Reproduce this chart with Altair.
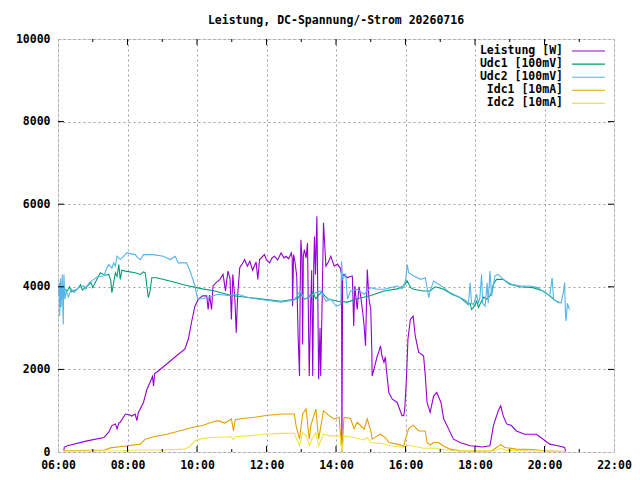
import altair as alt
import pandas as pd

FONT = "DejaVu Sans Mono"
TITLE = "Leistung, DC-Spannung/-Strom 20260716"
SERIES = ["Leistung [W]", "Udc1 [100mV]", "Udc2 [100mV]", "Idc1 [10mA]", "Idc2 [10mA]"]
COLORS = ["#9400d3", "#009e73", "#56b4e9", "#e69f00", "#f0e442"]
X_TICKS = [6, 8, 10, 12, 14, 16, 18, 20, 22]
X_MINOR = [7, 9, 11, 13, 15, 17, 19, 21]
Y_TICKS = [0, 2000, 4000, 6000, 8000, 10000]

# Leistung [W]
P_T = [6.17, 6.18, 6.27, 6.84, 7.32, 7.46, 7.55, 7.65, 7.70, 7.75, 7.79, 7.94, 8.05, 8.12, 8.22, 8.27, 8.31,
       8.46, 8.56, 8.65, 8.72, 8.75, 8.78, 8.84, 9.13, 9.41, 9.65, 9.75, 9.84, 9.94, 10.04, 10.16, 10.28,
       10.32, 10.36, 10.42, 10.46, 10.55, 10.66, 10.75, 10.82, 10.89, 10.95, 10.99, 11.03, 11.09, 11.13,
       11.17, 11.23, 11.30, 11.37, 11.45, 11.52, 11.60, 11.70, 11.75, 11.80, 11.94, 12.00, 12.09, 12.16,
       12.23, 12.32, 12.42, 12.50, 12.56, 12.64, 12.71, 12.74, 12.75, 12.78, 12.82, 12.87, 12.91, 12.95,
       12.97, 12.99, 13.02, 13.04, 13.06, 13.09, 13.14, 13.18, 13.21, 13.23, 13.27, 13.30, 13.33, 13.36,
       13.38, 13.41, 13.45, 13.48, 13.50, 13.54, 13.56, 13.60, 13.64, 13.71, 13.78, 13.85, 13.95, 14.04,
       14.12, 14.16, 14.17, 14.19, 14.23, 14.33, 14.40, 14.47, 14.51, 14.54, 14.61, 14.66, 14.71, 14.78,
       14.81, 14.85, 14.88, 14.90, 14.95, 15.00, 15.03, 15.04, 15.09, 15.19, 15.24, 15.28, 15.33, 15.38,
       15.42, 15.45, 15.52, 15.62, 15.76, 15.90, 15.95, 15.98, 16.03, 16.07, 16.14, 16.22, 16.28, 16.38,
       16.52, 16.57, 16.62, 16.71, 16.81, 16.90, 17.02, 17.10, 17.24, 17.38, 17.57, 17.86, 18.05, 18.20,
       18.43, 18.53, 18.67, 18.74, 18.81, 18.91, 19.05, 19.19, 19.43, 19.77, 19.96, 20.15, 20.39, 20.58,
       20.61]
P_V = [30, 120, 150, 270, 350, 480, 640, 680, 560, 700, 720, 920, 900, 870, 920, 760, 950,
       1200, 1520, 1690, 1830, 1600, 1900, 1930, 2130, 2330, 2490, 2730, 3130, 3530, 3700, 3780, 3780,
       3450, 3800, 3450, 4020, 4100, 4180, 4300, 3900, 4380, 4200, 3210, 4300, 3700, 2890,
       3800, 4460, 4550, 4660, 4500, 4620, 4400, 4600, 4180, 4660, 4780, 4650, 4580, 4700,
       4740, 4650, 4820, 4700, 4740, 4680, 4820, 4700, 3530, 4780, 4600, 4260, 2810, 1840,
       4000, 5140, 4700, 2600, 4750, 4900, 4700, 5060, 3000, 1840, 3500, 4400, 1840, 4500,
       5220, 4300, 5710, 3500, 1760, 3000, 1840, 3600, 5550, 4500, 4600, 4740, 4500, 4550,
       4460, 4300, 0, 4260, 4300, 4220, 4250, 4260, 3050, 4020, 3450, 4000, 3780, 3300,
       3050, 2570, 3700, 4420, 3700, 3450, 2500, 1840, 2000, 2330, 2450, 2570, 2300, 2170,
       2300, 2000, 1440, 1280, 1200, 880, 880, 1040, 1840, 2730, 3210, 3290, 2810, 2410,
       2330, 1840, 1200, 960, 1360, 1440, 1200, 800, 560, 310, 230, 150, 140, 120,
       150, 640, 1000, 1120, 880, 680, 640, 510, 430, 430, 310, 190, 150, 110,
       10]

# Udc1 [100mV]
U1_T = [6.05, 6.07, 6.10, 6.14, 6.19, 6.27, 6.33, 6.39, 6.55, 6.65, 6.70, 6.84, 6.95, 7.00, 7.12, 7.22,
        7.35, 7.46, 7.52, 7.55, 7.58, 7.65, 7.70, 7.75, 7.79, 7.84, 7.94, 8.22, 8.37, 8.46, 8.51, 8.56,
        8.60, 8.65, 8.70, 8.84, 9.13, 9.41, 9.70, 9.99, 10.16, 10.51, 10.99, 11.47, 11.94, 12.42, 12.80,
        12.90, 12.99, 13.09, 13.20, 13.33, 13.42, 13.50, 13.58, 13.76, 14.04, 14.33, 14.61, 15.00, 15.38,
        15.76, 15.95, 16.05, 16.15, 16.24, 16.52, 16.70, 16.86, 17.10, 17.33, 17.57, 17.81, 17.86, 17.90,
        17.95, 18.05, 18.10, 18.14, 18.25, 18.34, 18.45, 18.53, 18.62, 18.81, 19.00, 19.29, 19.67, 19.96,
        20.15, 20.34, 20.43]
U1_V = [3940, 3800, 4000, 3860, 3950, 3900, 4000, 3880, 3940, 4050, 3920, 4020, 4100, 3980, 4180, 4340,
        4280, 4300, 4150, 3860, 4000, 4340, 4250, 4540, 4180, 4400, 4380, 4340, 4300, 4360, 4340, 4000,
        3740, 3900, 4220, 4220, 4160, 4100, 4030, 3980, 3950, 3900, 3790, 3740, 3700, 3650, 3700,
        3720, 3820, 3700, 3740, 3870, 3710, 3800, 3870, 3710, 3650, 3630, 3710, 3790, 3900,
        3950, 4020, 4140, 3980, 3940, 3900, 3900, 4000, 3940, 3820, 3740, 3570, 3600, 3450,
        3490, 3650, 3500, 3570, 3750, 3700, 3800, 4060, 4180, 4180, 4060, 4000, 3980, 3900,
        3780, 3650, 3610]

# Udc2 [100mV]
U2_T = [6.02, 6.04, 6.05, 6.07, 6.09, 6.12, 6.15, 6.17, 6.20, 6.24, 6.30, 6.38, 6.46, 6.55, 6.62, 6.74,
        6.80, 6.90, 7.03, 7.15, 7.32, 7.40, 7.46, 7.55, 7.60, 7.65, 7.70, 7.79, 7.84, 7.98, 8.22, 8.30,
        8.37, 8.46, 8.75, 9.03, 9.23, 9.37, 9.46, 9.70, 9.82, 9.94, 10.02, 10.13, 10.32, 10.61, 10.89,
        11.18, 11.47, 11.94, 12.42, 12.80, 12.97, 13.09, 13.25, 13.42, 13.56, 13.71, 13.85, 14.00, 14.14,
        14.16, 14.19, 14.28, 14.33, 14.42, 14.61, 14.81, 15.00, 15.19, 15.38, 15.57, 15.76, 15.90, 16.00,
        16.05, 16.09, 16.24, 16.43, 16.57, 16.67, 16.71, 16.81, 16.95, 17.10, 17.28, 17.48, 17.67, 17.76,
        17.81, 17.86, 17.90, 17.95, 18.05, 18.10, 18.14, 18.19, 18.22, 18.29, 18.35, 18.38, 18.43, 18.48,
        18.57, 18.67, 18.81, 19.05, 19.29, 19.57, 19.81, 20.00, 20.15, 20.22, 20.26, 20.34, 20.48, 20.55,
        20.58, 20.60, 20.62, 20.66, 20.72]
U2_V = [3800, 4100, 3300, 4200, 3500, 4300, 3090, 4300, 3700, 3900, 3750, 3950, 3860, 3950, 4000, 4020,
        3950, 4100, 4180, 4250, 4260, 4450, 4540, 4450, 4580, 4500, 4740, 4660, 4700, 4820, 4780, 4700,
        4660, 4780, 4780, 4740, 4660, 4740, 4580, 4580, 4340, 4020, 3700, 3710, 3740, 3820, 3790,
        3820, 3740, 3680, 3630, 3680, 3900, 3700, 3750, 3860, 3900, 3650, 3700, 3530, 3570,
        4620, 4180, 4300, 3700, 3900, 3940, 3820, 3980, 3940, 3940, 3980, 4020, 3950, 4140,
        4540, 4340, 4260, 4180, 4220, 3740, 3900, 4140, 4060, 3980, 3860, 3780, 3700, 3650,
        3570, 4100, 3600, 3570, 3800, 3600, 3740, 4300, 3600, 3530, 4100, 3600, 4380, 3780,
        4260, 4300, 4180, 4060, 4020, 4020, 3980, 3860, 3780, 4220, 3700, 3650, 3610, 3900,
        4100, 3400, 3170, 3600, 3450]

# Idc1 [10mA]
I1_T = [6.17, 7.35, 7.51, 7.89, 8.37, 8.51, 8.75, 9.13, 9.49, 9.89, 10.16, 10.42, 10.61, 10.80, 10.99,
        11.05, 11.10, 11.30, 11.66, 12.04, 12.42, 12.80, 12.85, 12.95, 13.04, 13.14, 13.23, 13.28, 13.42,
        13.50, 13.64, 13.80, 13.95, 14.09, 14.17, 14.23, 14.42, 14.52, 14.61, 14.81, 14.90, 15.00, 15.04,
        15.19, 15.28, 15.42, 15.52, 15.76, 15.95, 16.00, 16.09, 16.22, 16.38, 16.57, 16.62, 16.71, 16.81,
        16.95, 17.10, 17.28, 17.57, 17.95, 18.48, 18.62, 18.74, 18.86, 19.19, 19.67, 20.00, 20.61]
I1_V = [30, 50, 100, 140, 190, 310, 370, 430, 510, 600, 640, 720, 760, 700, 800,
        510, 780, 810, 840, 890, 920, 920, 640, 310, 920, 1040, 310, 650, 1040,
        310, 1000, 880, 800, 840, 0, 840, 810, 560, 720, 560, 800, 510, 310,
        390, 430, 350, 230, 190, 140, 310, 560, 650, 510, 510, 230, 170, 230,
        230, 140, 70, 30, 20, 30, 110, 180, 110, 70, 60, 30, 10]

# Idc2 [10mA]
I2_T = [6.17, 7.79, 8.30, 9.03, 9.65, 9.80, 9.94, 10.16, 10.42, 10.99, 11.05, 11.10, 11.47, 11.94, 12.42,
        12.80, 12.87, 12.95, 13.04, 13.14, 13.23, 13.30, 13.42, 13.50, 13.64, 13.85, 14.12, 14.17, 14.23,
        14.52, 14.81, 14.90, 15.00, 15.28, 15.57, 15.95, 16.09, 16.24, 16.52, 16.81, 17.10, 17.57, 18.48,
        18.62, 18.74, 18.91, 19.50, 20.61]
I2_V = [20, 30, 50, 50, 70, 140, 270, 330, 350, 370, 300, 370, 390, 430, 450,
        450, 310, 150, 470, 400, 150, 310, 470, 150, 430, 390, 390, 0, 390,
        350, 290, 350, 230, 210, 150, 110, 170, 140, 90, 90, 60, 20, 20,
        55, 90, 40, 30, 10]

rows = []
for name, ts, vs in zip(SERIES, [P_T, U1_T, U2_T, I1_T, I2_T], [P_V, U1_V, U2_V, I1_V, I2_V]):
    for t, v in zip(ts, vs):
        rows.append({"series": name, "t": t, "v": v})
df = pd.DataFrame(rows)

W, H = 556, 413
xs = alt.Scale(domain=[6, 22], nice=False, zero=False)
ys = alt.Scale(domain=[0, 10000], nice=False)
cs = alt.Scale(domain=SERIES, range=COLORS)

label_style = dict(labelFont=FONT, labelFontSize=11.5, labelFontWeight="bold", labelColor="black",
                   labelFlush=False, labelOverlap=False)
XAX = alt.Axis(values=X_TICKS, title=None, ticks=False, domain=False, grid=True,
               gridDash=[2, 3], gridColor="#a0a0a0", labelPadding=7,
               labelExpr="(datum.value < 10 ? '0' : '') + datum.value + ':00'", **label_style)
YAX = alt.Axis(values=Y_TICKS, title=None, ticks=False, domain=False, grid=True,
               gridDash=[2, 3], gridColor="#a0a0a0", labelPadding=8, format="d", **label_style)

lines = alt.Chart(df).mark_line(strokeWidth=1.1, clip=True).encode(
    x=alt.X("t:Q", scale=xs, axis=XAX),
    y=alt.Y("v:Q", scale=ys, axis=YAX),
    color=alt.Color("series:N", scale=cs, legend=None),
    order=alt.Order("t:Q"),
)

xmaj = pd.DataFrame({"t": X_TICKS[1:-1]})
xmin = pd.DataFrame({"t": X_MINOR})
ymaj = pd.DataFrame({"v": Y_TICKS[1:-1]})

def xtick(data, y0, y1):
    return alt.Chart(data).mark_rule(color="black", strokeWidth=1).encode(
        x=alt.X("t:Q", scale=xs, axis=XAX), y=alt.value(y0), y2=alt.value(y1))

def ytick(data, x0, x1):
    return alt.Chart(data).mark_rule(color="black", strokeWidth=1).encode(
        y=alt.Y("v:Q", scale=ys, axis=YAX), x=alt.value(x0), x2=alt.value(x1))

ticks = [
    xtick(xmaj, H, H - 6), xtick(xmaj, 0, 6),
    xtick(xmin, H, H - 3), xtick(xmin, 0, 3),
    ytick(ymaj, 0, 6), ytick(ymaj, W, W - 6),
]

# key (gnuplot style: text right-aligned, line sample to its right, opaque box)
key_df = pd.DataFrame({"series": SERIES, "row": list(range(len(SERIES)))})
key_df["py"] = 12 + 13.1 * key_df["row"]

key_box = alt.Chart(key_df.head(1)).mark_rect(color="white").encode(
    x=alt.value(418), x2=alt.value(552), y=alt.value(6), y2=alt.value(68))
key_text = alt.Chart(key_df).mark_text(
    align="right", baseline="middle", font=FONT, fontSize=11.5, fontWeight="bold", color="black"
).encode(x=alt.value(505), y=alt.Y("py:Q", scale=None), text="series:N")
key_line = alt.Chart(key_df).mark_rule(strokeWidth=1.1).encode(
    x=alt.value(514), x2=alt.value(547), y=alt.Y("py:Q", scale=None),
    color=alt.Color("series:N", scale=cs, legend=None))

chart = alt.layer(lines, *ticks, key_box, key_text, key_line).properties(
    width=W, height=H,
    title=alt.TitleParams(TITLE, font=FONT, fontSize=11.5, fontWeight="bold", color="black",
                          anchor="middle", offset=7),
    autosize=alt.AutoSizeParams(type="none"),
    padding={"left": 50, "top": 31, "right": 18, "bottom": 20},
).configure_view(stroke="black", strokeWidth=1).configure(background="white")

chart.save("out.html", embed_options={"renderer": "svg", "actions": False})
